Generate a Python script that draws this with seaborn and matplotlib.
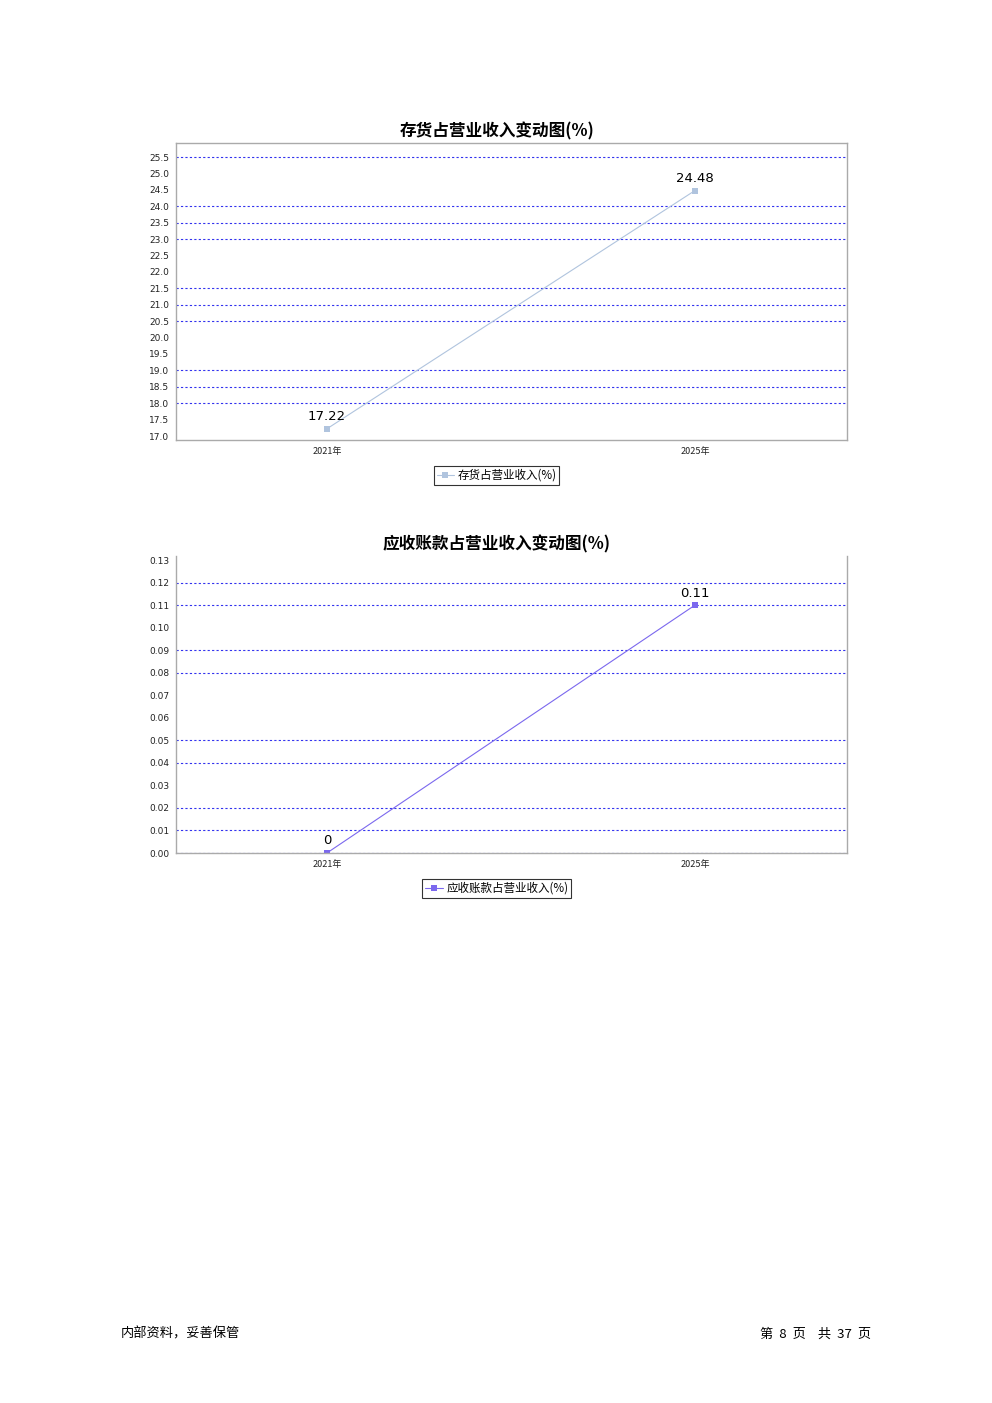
import numpy as np
import pandas as pd
import matplotlib
matplotlib.use("Agg")
import matplotlib.pyplot as plt
import seaborn as sns

sns.set_style("white")
plt.rcParams['font.family'] = ['Noto Sans CJK SC', 'DejaVu Sans']
plt.rcParams['text.color'] = 'black'

# 数据
years = ["2021年", "2025年"]
inventory_ratio = [17.22, 24.48]
receivable_ratio = [0, 0.11]
inventory_labels = ["17.22", "24.48"]
receivable_labels = ["0", "0.11"]

inv_ticks = [17.0, 17.5, 18.0, 18.5, 19.0, 19.5, 20.0, 20.5, 21.0, 21.5,
             22.0, 22.5, 23.0, 23.5, 24.0, 24.5, 25.0, 25.5]
inv_grid = [18.0, 18.5, 19.0, 20.5, 21.0, 21.5, 23.0, 23.5, 24.0, 25.5]
rec_ticks = [0.00, 0.01, 0.02, 0.03, 0.04, 0.05, 0.06, 0.07, 0.08, 0.09,
             0.10, 0.11, 0.12, 0.13]
rec_grid = [0.00, 0.01, 0.02, 0.04, 0.05, 0.08, 0.09, 0.11, 0.12]

fig = plt.figure(figsize=(9.92, 14.03), dpi=100)


def draw_chart(rect, values, labels, ticks, grid_vals, ylim, color, title,
               legend_name, tick_fmt, top_border, legend_y):
    ax = fig.add_axes(rect)
    df = pd.DataFrame({"year": years, "value": values})
    x = np.arange(len(years))
    for g in grid_vals:
        ax.axhline(g, color="#3333ee", lw=0.8, ls=(0, (2, 2)), zorder=0)
    sns.lineplot(x=x, y=df["value"], ax=ax, color=color, lw=0.8,
                 marker="s", markersize=5, markeredgewidth=0,
                 label=legend_name)
    for xi, v, lab in zip(x, values, labels):
        ax.annotate(lab, (xi, v), xytext=(0, 4), textcoords="offset points",
                    ha="center", va="bottom", fontsize=9.5, color="black",
                    family=['DejaVu Sans'])
    ax.set_xlim(-0.41, 1.413)
    ax.set_ylim(*ylim)
    ax.set_xticks(x)
    ax.set_xticklabels(years, fontsize=6.5, color="#222222")
    ax.set_yticks(ticks)
    ax.set_yticklabels([tick_fmt.format(t) for t in ticks], fontsize=6.5,
                       color="#222222", family=['DejaVu Sans'])
    ax.tick_params(axis="both", length=2, width=0.6, color="#aaaaaa", pad=3)
    ax.set_xlabel("")
    ax.set_ylabel("")
    for side in ["left", "right", "bottom", "top"]:
        ax.spines[side].set_color("#aaaaaa")
        ax.spines[side].set_linewidth(1.0)
    ax.spines["top"].set_visible(top_border)
    ax.set_title(title, fontsize=12, fontweight="bold", color="black",
                 x=0.478, pad=5)
    leg = ax.legend(loc="upper center", bbox_to_anchor=(0.478, legend_y),
                    fontsize=8.3, frameon=True, fancybox=False,
                    handlelength=1.5, borderpad=0.25, handletextpad=0.3,
                    borderaxespad=0)
    leg.get_frame().set_edgecolor("black")
    leg.get_frame().set_linewidth(0.8)
    for t in leg.get_texts():
        t.set_color("black")
    return ax


draw_chart([0.1774, 0.6864, 0.6764, 0.2117], inventory_ratio,
           inventory_labels, inv_ticks, inv_grid, (16.88, 25.93), "#b0c4de",
           "存货占营业收入变动图(%)", "存货占营业收入(%)", "{:.1f}", True, -0.087)
draw_chart([0.1774, 0.3920, 0.6764, 0.2117], receivable_ratio,
           receivable_labels, rec_ticks, rec_grid, (0.0, 0.1318), "#7b68ee",
           "应收账款占营业收入变动图(%)", "应收账款占营业收入(%)", "{:.2f}", False, -0.087)

fig.text(121 / 992, 1 - 1334 / 1403, "内部资料，妥善保管", fontsize=9.5,
         va="center", ha="left")
fig.text(871 / 992, 1 - 1334 / 1403, "第  8  页    共  37  页", fontsize=9.5,
         va="center", ha="right")

fig.savefig("out.png", dpi=100)
